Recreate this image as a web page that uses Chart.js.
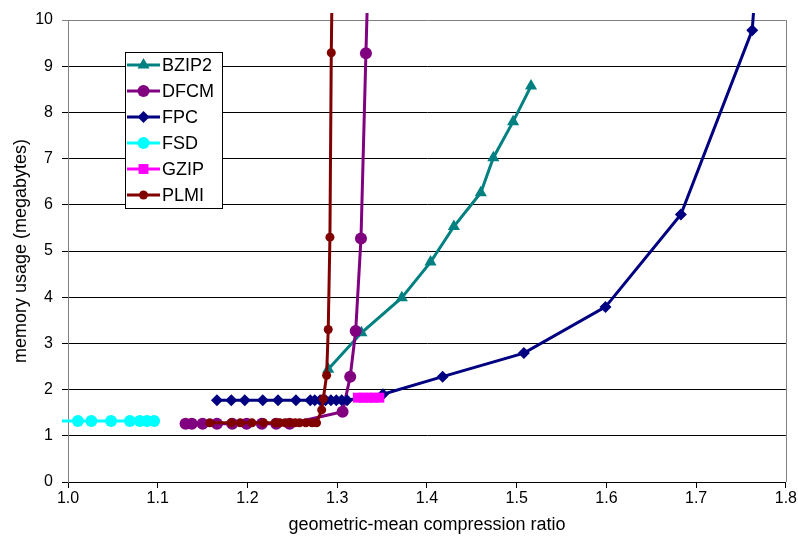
<!DOCTYPE html>
<html>
<head>
<meta charset="utf-8">
<title>memory usage vs compression ratio</title>
<script src="https://cdn.jsdelivr.net/npm/chart.js@4.4.1/dist/chart.umd.min.js"></script>
<style>
  html, body { margin: 0; padding: 0; background: #fff; }
  #wrap { width: 798px; height: 543px; position: relative; }
</style>
</head>
<body>
<div id="wrap"><canvas id="chart"></canvas></div>
<script>
// values (x = compression ratio, y = MB)
const BZIP2_X = [1.290, 1.327, 1.372, 1.404, 1.430, 1.460, 1.474, 1.496, 1.516];
const BZIP2_Y = [2.44, 3.23, 3.99, 4.76, 5.53, 6.26, 7.02, 7.80, 8.57];

const DFCM_X = [1.131, 1.138, 1.150, 1.166, 1.183, 1.199, 1.216, 1.232, 1.247, 1.306, 1.3145, 1.3206, 1.3265, 1.332, 1.3345];
const DFCM_Y = [1.26, 1.26, 1.26, 1.26, 1.26, 1.26, 1.26, 1.26, 1.26, 1.52, 2.28, 3.27, 5.27, 9.28, 11.0];

const FPC_X = [1.166, 1.182, 1.197, 1.217, 1.234, 1.254, 1.270, 1.275, 1.281, 1.287, 1.293, 1.299, 1.305, 1.311,
               1.351, 1.4175, 1.508, 1.599, 1.683, 1.7625, 1.767];
const FPC_Y = [1.77, 1.77, 1.77, 1.77, 1.77, 1.77, 1.77, 1.77, 1.77, 1.77, 1.77, 1.77, 1.77, 1.77,
               1.90, 2.28, 2.79, 3.79, 5.79, 9.78, 11.0];

const FSD_X = [0.985, 1.011, 1.026, 1.048, 1.069, 1.080, 1.088, 1.096];
const FSD_Y = [1.32, 1.32, 1.32, 1.32, 1.32, 1.32, 1.32, 1.32];

const GZIP_X = [1.323, 1.329, 1.335, 1.341, 1.347];
const GZIP_Y = [1.825, 1.825, 1.825, 1.825, 1.825];

const PLMI_X = [1.158, 1.182, 1.192, 1.205, 1.218, 1.231, 1.236, 1.242, 1.247, 1.253, 1.258, 1.265, 1.272, 1.277,
                1.2827, 1.2845, 1.2882, 1.290, 1.2919, 1.2934, 1.2945];
const PLMI_Y = [1.28, 1.28, 1.28, 1.28, 1.28, 1.28, 1.28, 1.28, 1.28, 1.28, 1.28, 1.28, 1.28, 1.28,
                1.56, 1.80, 2.31, 3.30, 5.30, 9.29, 11.0];

const X_TICKS = [1.0, 1.1, 1.2, 1.3, 1.4, 1.5, 1.6, 1.7, 1.8];
const Y_TICKS = [0, 1, 2, 3, 4, 5, 6, 7, 8, 9, 10];

const FONT = 'Arial, "Liberation Sans", sans-serif';

const pts = (xs, ys) => xs.map((x, i) => ({ x, y: ys[i] }));

// name, colour, marker, radius, xs, ys  (last in list drawn on top, like Excel)
const SERIES = [
  { label: 'BZIP2', color: '#008080', style: 'triangle', r: 7,   xs: BZIP2_X, ys: BZIP2_Y },
  { label: 'DFCM',  color: '#800080', style: 'circle',   r: 6,   xs: DFCM_X,  ys: DFCM_Y },
  { label: 'FPC',   color: '#000080', style: 'rectRot',  r: 6,   xs: FPC_X,   ys: FPC_Y },
  { label: 'FSD',   color: '#00FFFF', style: 'circle',   r: 6,   xs: FSD_X,   ys: FSD_Y },
  { label: 'GZIP',  color: '#FF00FF', style: 'rect',     r: 7,   xs: GZIP_X,  ys: GZIP_Y },
  { label: 'PLMI',  color: '#800000', style: 'circle',   r: 4.5, xs: PLMI_X,  ys: PLMI_Y },
];

const datasets = SERIES.map((s, i) => ({
  label: s.label,
  data: pts(s.xs, s.ys),
  showLine: true,
  borderColor: s.color,
  backgroundColor: s.color,
  borderWidth: 3,
  pointStyle: s.style,
  pointRadius: s.r,
  pointBackgroundColor: s.color,
  pointBorderColor: s.color,
  pointBorderWidth: 0,
  tension: 0,
  order: SERIES.length - i,
  clip: { left: 6, top: 7, right: 0, bottom: 0 }
}));

// right frame line + the boxed legend inside the plot
const frameAndLegend = {
  id: 'frameAndLegend',
  beforeDatasetsDraw(chart) {
    const { ctx, chartArea: a } = chart;
    ctx.save();
    ctx.strokeStyle = '#808080';
    ctx.lineWidth = 1;
    ctx.beginPath();
    ctx.moveTo(Math.round(a.right) + 0.5, a.top);
    ctx.lineTo(Math.round(a.right) + 0.5, a.bottom);
    ctx.stroke();
    ctx.restore();
  },
  afterDraw(chart) {
    const { ctx } = chart;
    const box = { x: 125, y: 52, w: 97, h: 156 };
    ctx.save();
    ctx.fillStyle = '#fff';
    ctx.fillRect(box.x, box.y, box.w, box.h);
    ctx.strokeStyle = '#000';
    ctx.lineWidth = 1;
    ctx.strokeRect(box.x + 0.5, box.y + 0.5, box.w, box.h);
    ctx.font = '18px ' + FONT;
    ctx.textBaseline = 'middle';
    ctx.textAlign = 'left';
    SERIES.forEach((s, i) => {
      const y = 65 + i * 26;
      ctx.strokeStyle = s.color;
      ctx.fillStyle = s.color;
      ctx.lineWidth = 3;
      ctx.beginPath();
      ctx.moveTo(127, y);
      ctx.lineTo(160, y);
      ctx.stroke();
      ctx.lineWidth = 0;
      Chart.helpers.drawPoint(ctx, { pointStyle: s.style, radius: s.r, rotation: 0, borderWidth: 0 }, 143.5, y);
      ctx.fillStyle = '#000';
      ctx.fillText(s.label, 162, y + 1);
    });
    ctx.restore();
  }
};

new Chart(document.getElementById('chart'), {
  type: 'scatter',
  data: { datasets },
  plugins: [frameAndLegend],
  options: {
    responsive: true,
    maintainAspectRatio: false,
    animation: false,
    devicePixelRatio: 1,
    layout: { padding: { left: 0, right: 12, top: 20, bottom: 0 } },
    plugins: {
      legend: { display: false },
      tooltip: { enabled: false }
    },
    scales: {
      x: {
        type: 'linear',
        min: 1.0,
        max: 1.8,
        afterFit: (s) => { s.height = 61; },
        afterBuildTicks: (s) => { s.ticks = X_TICKS.map(v => ({ value: v })); },
        ticks: {
          color: '#000',
          font: { family: FONT, size: 16 },
          padding: 1,
          maxRotation: 0,
          callback: (v) => Number(v).toFixed(1)
        },
        grid: { drawOnChartArea: false, drawTicks: true, tickLength: 6, color: '#000' },
        border: { color: '#000', width: 1 },
        title: {
          display: true,
          text: 'geometric-mean compression ratio',
          color: '#000',
          font: { family: FONT, size: 18 },
          padding: { top: 0, bottom: 7 }
        }
      },
      y: {
        type: 'linear',
        min: 0,
        max: 10,
        afterFit: (s) => { s.width = 68; },
        afterBuildTicks: (s) => { s.ticks = Y_TICKS.map(v => ({ value: v })); },
        ticks: {
          color: '#000',
          font: { family: FONT, size: 16 },
          padding: 9
        },
        grid: {
          drawTicks: true,
          tickLength: 6,
          color: (c) => (c.tick && c.tick.value === 10 ? '#808080' : '#000')
        },
        border: { color: '#808080', width: 1 },
        title: {
          display: true,
          text: 'memory usage (megabytes)',
          color: '#000',
          font: { family: FONT, size: 18 },
          padding: { top: 10, bottom: 0 }
        }
      }
    }
  }
});
</script>
</body>
</html>
